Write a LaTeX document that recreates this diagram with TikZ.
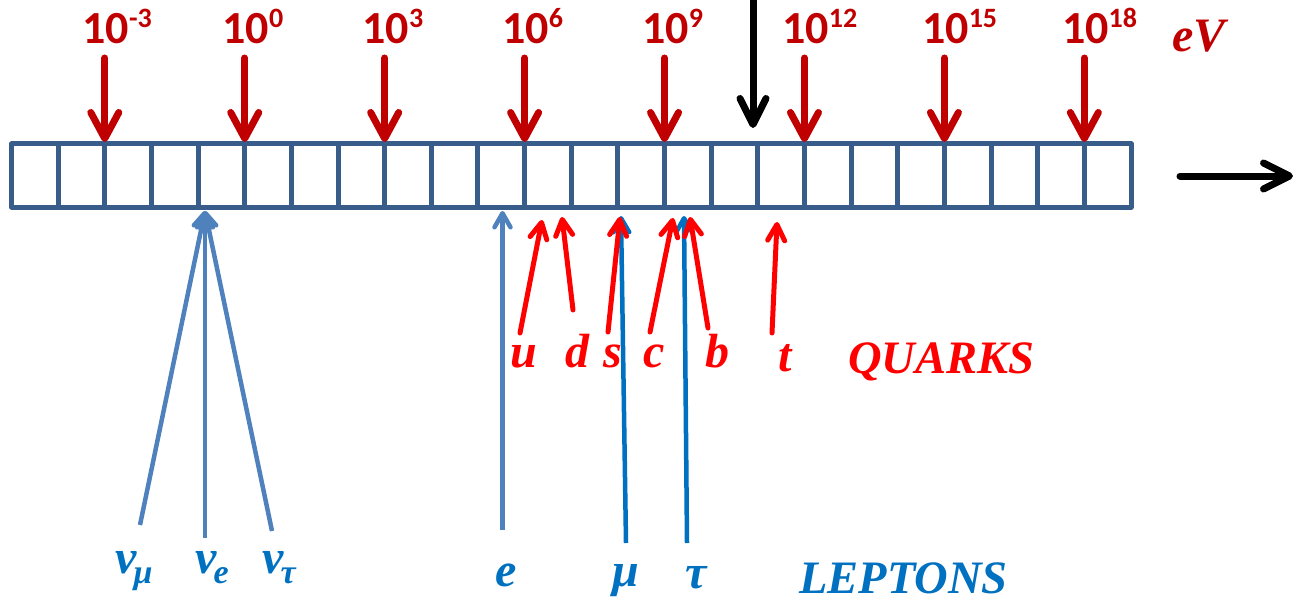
\documentclass[tikz,border=0pt]{standalone}
\usepackage{fontspec}
\setmainfont{Liberation Serif}
\newfontfamily\numfont{Carlito}
\usetikzlibrary{arrows.meta,calc}
\definecolor{barc}{HTML}{385D8A}
\definecolor{dred}{HTML}{C00000}
\definecolor{lblue}{HTML}{4F81BD}
\definecolor{mblue}{HTML}{0070C0}
\definecolor{qred}{HTML}{FF0000}
\newcommand\pw[1]{\raisebox{16pt}{\fontsize{28}{28}\selectfont #1}}
\newcommand\lsub[1]{\kern-3pt\raisebox{-10pt}{\fontsize{34}{34}\selectfont #1}}
\begin{document}
\begin{tikzpicture}[x=1pt,y=-1pt,
  toplab/.style={inner sep=0pt, anchor=base west, text=dred, font=\numfont\bfseries\fontsize{46}{46}\selectfont},
  redarr/.style={draw=dred, line width=7pt, line cap=round, -{Straight Barb[length=26pt,width=28pt,round]}},
  blkarr/.style={draw=black, line width=7pt, line cap=round, -{Straight Barb[length=26pt,width=26pt,round]}},
  quarr/.style={draw=qred, line width=5pt, line cap=round, -{Straight Barb[length=16pt,width=17pt,round]}},
  nuarr/.style={draw=lblue, line width=4.5pt, -{Straight Barb[length=14pt,width=16pt,round]}},
  lparr/.style={draw=mblue, line width=4.5pt, -{Straight Barb[length=14pt,width=16pt,round]}},
  qlab/.style={inner sep=0pt, anchor=base, text=qred, font=\bfseries\itshape\fontsize{48}{48}\selectfont},
  llab/.style={inner sep=0pt, text=mblue, font=\bfseries\itshape\fontsize{48}{48}\selectfont},
  bigq/.style={inner sep=0pt, anchor=base west, font=\bfseries\itshape\fontsize{46.5}{46.5}\selectfont},
  barline/.style={draw=barc, line width=5pt, line join=round}
]
\useasboundingbox (0,0) rectangle (1298,599);

% bar
\pgfmathsetmacro{\cw}{(1131-11.5)/24}
\draw[barline] (11.5,144) rectangle (1131,207);
\foreach \k in {1,...,23}{
  \draw[barline] ({11.5+\k*\cw},144) -- ({11.5+\k*\cw},207);
}
% energy scale arrows
\foreach \k/\n/\e in {2/a/-3,5/b/0,8/c/3,11/d/6,14/e/9,17/f/12,20/g/15,23/h/18}{
  \coordinate (top\n) at ({11.5+\k*\cw},142);
  \node[toplab] (lab\n) at ({11.5+\k*\cw-22.5},44) {10\pw{\e}};
  \coordinate (st\n) at ({11.5+\k*\cw},58);
  \draw[redarr] (st\n) -- (top\n);
}
\node[inner sep=0pt, anchor=base west, text=dred, font=\bfseries\itshape\fontsize{48}{48}\selectfont] (ev) at (1172,52) {eV};

% black arrows
\coordinate (bks) at (753,-6);
\coordinate (bke) at (753,128);
\draw[blkarr] (bks) -- (bke);
\coordinate (rts) at (1180,176);
\coordinate (rte) at (1293,176);
\draw[blkarr] (rts) -- (rte);

% quarks
\node[qlab] (u) at (524,367) {u};
\node[qlab] (d) at (577,367) {d};
\node[qlab] (s) at (613,367) {s};
\node[qlab] (c) at (654,367) {c};
\node[qlab] (b) at (717,367) {b};
\node[qlab] (t) at (785,371) {t};
\node[bigq, text=qred] (quarks) at (848,373) {QUARKS};
\coordinate (us) at (520,333); \coordinate (ue) at (542,220);
\coordinate (ds) at (573,310); \coordinate (de) at (562,217);
\coordinate (ss) at (608,332); \coordinate (se) at (620,217);
\coordinate (cs) at (650,332); \coordinate (ce) at (673,218);
\coordinate (bs) at (708,328); \coordinate (be) at (690,217);
\coordinate (ts) at (772,333); \coordinate (te) at (777,222);

% leptons
\coordinate (nut) at (205,211);
\coordinate (num) at (140,525);
\coordinate (nue) at (205,538);
\coordinate (nutau) at (272,531);
\draw[nuarr] (num) -- (nut);
\draw[nuarr] (nue) -- (nut);
\draw[nuarr] (nutau) -- (nut);
\coordinate (es) at (502.5,530); \coordinate (ee) at (502.5,211);
\draw[nuarr] (es) -- (ee);
\coordinate (ms) at (626,543); \coordinate (me) at (621,216);
\coordinate (taus) at (687,543); \coordinate (taue) at (684,216);
\draw[lparr] (ms) -- (me);
\draw[lparr] (taus) -- (taue);

\foreach \p in {u,d,s,c,b,t}{ \draw[quarr] (\p s) -- (\p e); }

\node[llab, anchor=base west] (lnum) at (115,573) {v\lsub{μ}};
\node[llab, anchor=base west] (lnue) at (195,573) {v\lsub{e}};
\node[llab, anchor=base west] (lnut) at (262,573) {v\lsub{τ}};
\node[llab, anchor=base] (le) at (506,586) {e};
\node[llab, anchor=base] (lmu) at (626,586) {μ};
\node[llab, anchor=base] (ltau) at (696,588) {τ};
\node[bigq, text=mblue] (leptons) at (799,593) {LEPTONS};
\end{tikzpicture}
\end{document}
